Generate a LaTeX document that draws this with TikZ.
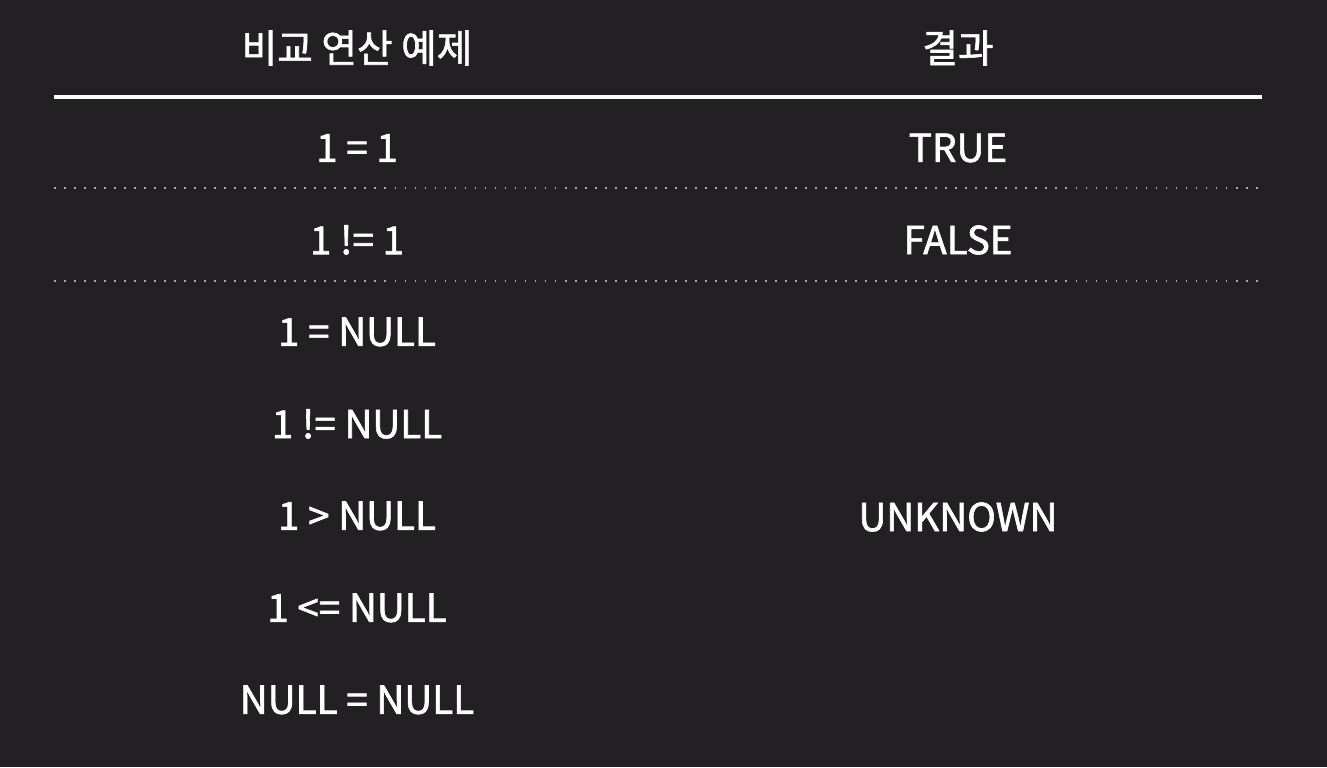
\documentclass[tikz,border=0pt]{standalone}
\usepackage{fontspec}
\newfontfamily\kofont[RawFeature={embolden=1.6}]{Noto Sans CJK KR}
\usetikzlibrary{positioning}
\definecolor{bgdark}{RGB}{34,32,34}
\definecolor{dotgray}{RGB}{170,170,170}

\begin{document}
\begin{tikzpicture}[x=0.02cm,y=-0.02cm,node distance=1.84cm,
      cell/.style={text=white,font=\kofont\fontsize{22}{26}\selectfont},
      headrule/.style={white,line width=2.3pt},
      rowrule/.style={dotgray,line width=1pt,dash pattern=on 1pt off 4.7pt}]

    \fill[bgdark] (0,0) rectangle (1327,767);
    \useasboundingbox (0,0) rectangle (1327,767);

    \node[cell] (hex) at (357,48) {비교 연산 예제};
    \node[cell] (hres) at (958,48) {결과};

    \node[cell] (e1) at (357,148) {1 = 1};
    \node[cell] (e2) [below of=e1] {1 != 1};
    \node[cell] (e3) [below of=e2] {1 = NULL};
    \node[cell] (e4) [below of=e3] {1 != NULL};
    \node[cell] (e5) [below of=e4] {1 > NULL};
    \node[cell] (e6) [below of=e5] {1 <= NULL};
    \node[cell] (e7) [below of=e6] {NULL = NULL};

    \node[cell] (r1) at (958,148) {TRUE};
    \node[cell] (r2) [below of=r1] {FALSE};
    \node[cell] (r3) at (958,517) {UNKNOWN};

    \coordinate (a0) at (54,97);
    \coordinate (b0) at (1262,97);
    \coordinate (a1) at (54,188);
    \coordinate (b1) at (1262,188);
    \coordinate (a2) at (54,281);
    \coordinate (b2) at (1262,281);

    \draw[headrule] (a0) -- (b0);
    \draw[rowrule] (a1) -- (b1);
    \draw[rowrule] (a2) -- (b2);
  \end{tikzpicture}
\end{document}
